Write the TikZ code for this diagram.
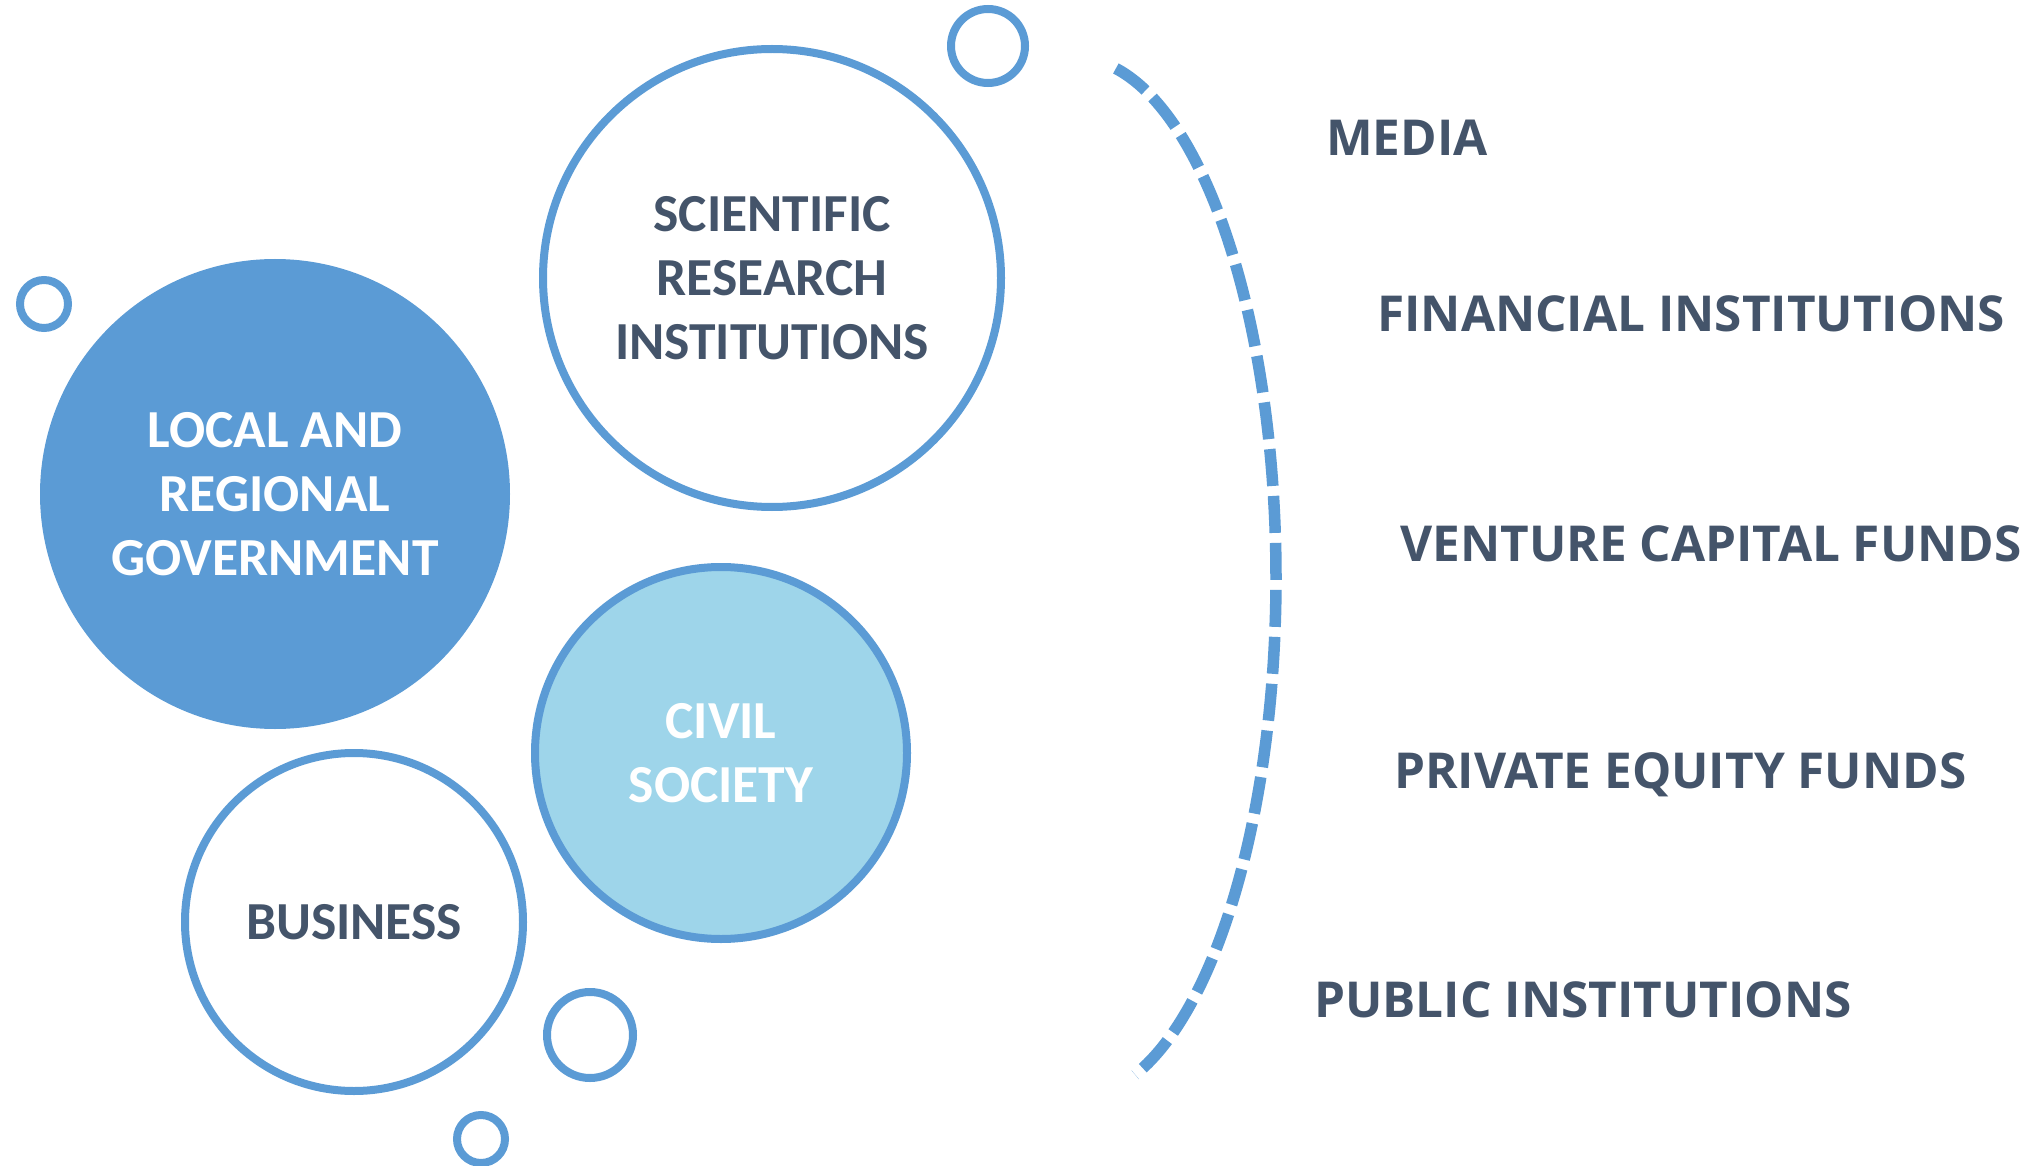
\documentclass[tikz,border=0pt]{standalone}
\usepackage{fontspec}
\newfontfamily\carl{Carlito}[BoldFont={* Bold}]
\newfontfamily\rfont{Open Sans}[BoldFont={* Bold}]
\definecolor{cblue}{HTML}{5B9BD5}
\definecolor{clight}{HTML}{9ED5EA}
\definecolor{cdark}{HTML}{44546A}
\tikzset{
  bubble/.style={circle, draw=cblue, line width=8pt, inner sep=0pt, align=center,
    font=\carl\bfseries\fontsize{53.5}{64}\selectfont},
  dot/.style={circle, draw=cblue, line width=8pt, inner sep=0pt},
  rlabel/.style={anchor=base west, inner sep=0pt, text=cdark,
    font=\rfont\bfseries\fontsize{49.5}{60}\selectfont},
  arcline/.style={draw=cblue, line width=11.5pt, dash pattern=on 37pt off 10pt}
}
\begin{document}
\begin{tikzpicture}[x=1pt,y=-1pt]
\useasboundingbox (0,0) rectangle (2035,1166);
\fill[white] (0,0) rectangle (2035,1166);
% large circles
\node[bubble, fill=white, text=cdark, minimum size=458] (sci) at (772,278) {SCIENTIFIC\\RESEARCH\\INSTITUTIONS};
\node[bubble, fill=cblue, text=white, minimum size=462] (gov) at (275,494) {LOCAL AND\\REGIONAL\\GOVERNMENT};
\node[bubble, fill=clight, text=white, minimum size=372] (civ) at (721,753) {CIVIL\\SOCIETY};
\node[bubble, fill=white, text=cdark, minimum size=338] (bus) at (354,922) {BUSINESS};
% small circles
\node[dot, minimum size=74] (d1) at (988,46) {};
\node[dot, minimum size=48] (d2) at (44,304) {};
\node[dot, minimum size=86] (d3) at (590,1035) {};
\node[dot, minimum size=48] (d4) at (481,1139) {};
% dashed arc
\draw[arcline] plot[domain=-78.5:72.8, samples=120, smooth] ({1076+200*cos(\x)}, {578+520*sin(\x)});
% right labels
\node[rlabel] (media) at (1326,156) {MEDIA};
\node[rlabel] (fin) at (1377,331) {FINANCIAL INSTITUTIONS};
\node[rlabel] (vc) at (1400,561) {VENTURE CAPITAL FUNDS};
\node[rlabel] (pe) at (1394,788) {PRIVATE EQUITY FUNDS};
\node[rlabel] (pub) at (1314,1017) {PUBLIC INSTITUTIONS};
\end{tikzpicture}
\end{document}
